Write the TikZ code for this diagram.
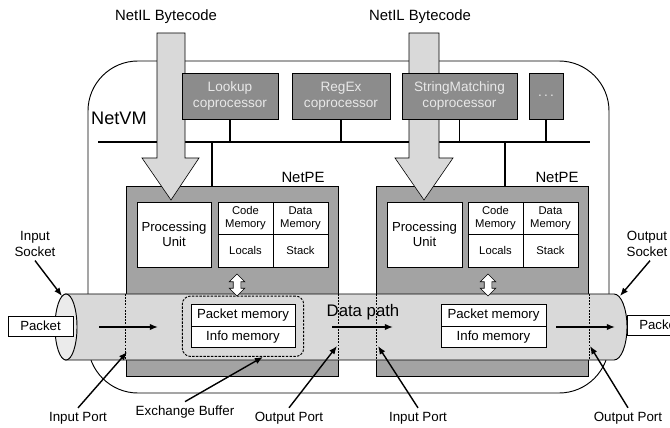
\documentclass[tikz,border=0pt]{standalone}
\usepackage{fontspec}
\setmainfont{Liberation Sans}
\usetikzlibrary{arrows.meta,shapes.arrows,fit}
\definecolor{coproc}{HTML}{8C8C8C}
\definecolor{pegray}{HTML}{A3A3A3}
\definecolor{pipegray}{HTML}{D9D9D9}
\definecolor{capgray}{HTML}{EBEBEB}
\definecolor{coptext}{HTML}{E8E8E8}

\begin{document}
\begin{tikzpicture}[x=0.03cm,y=-0.03cm,
  cop/.style={draw,fill=coproc,text=coptext,minimum height=1.38cm,inner sep=1pt,align=center,line width=0.6pt,font=\fontsize{11.6}{13.6}\selectfont},
  pebox/.style={draw,fill=pegray,minimum width=6.36cm,minimum height=5.7cm,line width=0.6pt},
  whitebox/.style={draw,fill=white,align=center,inner sep=0pt,line width=0.6pt},
  cell/.style={whitebox,minimum width=1.65cm,minimum height=0.975cm,font=\fontsize{9.6}{11.6}\selectfont},
  memrow/.style={whitebox,minimum height=0.645cm,font=\fontsize{11.3}{13}\selectfont},
  lbl/.style={align=center,font=\fontsize{11.4}{13.3}\selectfont},
  biglbl/.style={font=\fontsize{12.7}{15}\selectfont},
  bus/.style={line width=1.4pt},
  pointer/.style={-{Latex[length=7pt,width=5.5pt]},line width=1.2pt},
  port/.style={dash pattern=on 1.5pt off 1.2pt,line width=0.5pt},
  bytecode/.style={draw,fill=pipegray,line width=0.5pt},
  xchg/.style={double arrow,draw,fill=white,rotate=90,minimum height=0.66cm,double arrow head extend=0.12cm,inner sep=0.105cm,line width=0.5pt}]
\clip (0,0) rectangle (670,428);

% NetVM frame
\node (VM)[draw,rounded corners=1.5cm,minimum width=15.63cm,minimum height=9.96cm,line width=0.8pt] at (348.5,227) {};
\node (VMlbl)[anchor=west,inner sep=0,font=\fontsize{15.5}{18}\selectfont] at (91,118) {NetVM};

% bus
\coordinate (busL) at (98,142);
\coordinate (busR) at (590,142);
\coordinate (b1) at (212,142);
\coordinate (b2) at (505,142);
\draw[bus] (busL) -- (busR);

% processing elements
\node (PE1)[pebox] at (232,281) {};
\node (PE2)[pebox] at (482,281) {};
\node (PE1lbl)[biglbl] at (303,177) {NetPE};
\node (PE2lbl)[biglbl] at (557,177) {NetPE};
\draw[bus] (b1) -- (b1 |- PE1.north);
\draw[bus] (b2) -- (b2 |- PE2.north);

% data path pipe
\draw[fill=pipegray,line width=0.8pt] (65,294) -- (614,294)
  arc[start angle=90,end angle=-90,x radius=0.39cm,y radius=0.99cm] -- (65,360) -- cycle;
\draw[fill=capgray,line width=0.8pt] (66,327) ellipse[x radius=0.33cm,y radius=0.99cm];
\coordinate (sockL) at (62,296);
\coordinate (sockR) at (620,296);

% bytecode arrows
\node (BC1)[biglbl] at (166,17) {NetIL Bytecode};
\node (BC2)[biglbl] at (420,17) {NetIL Bytecode};
\draw[bytecode] (157,33) -- (185,33) -- (185,158) -- (199,158) -- (171,200) -- (142,158) -- (157,158) -- cycle;
\draw[bytecode] (409,33) -- (439,33) -- (439,158) -- (453,158) -- (424,200) -- (395,158) -- (409,158) -- cycle;

% coprocessors
\node (Look)[cop,minimum width=2.88cm] at (230,96) {Lookup\\coprocessor};
\node (RegEx)[cop,minimum width=2.94cm] at (341,96) {RegEx\\coprocessor};
\node (StrM)[cop,minimum width=3.45cm] at (459.5,96) {StringMatching\\coprocessor};
\node (More)[cop,minimum width=1.02cm] at (546,96) {.\,.\,.};
\draw[bus] (Look.south) -- (Look.south |- busL);
\draw[bus] (RegEx.south) -- (RegEx.south |- busL);
\draw[bus] (StrM.south) -- (StrM.south |- busL);
\draw[bus] (More.south) -- (More.south |- busL);

% inside the NetPEs
\node (PU1)[whitebox,minimum width=2.22cm,minimum height=1.95cm,font=\fontsize{11.2}{12.8}\selectfont] at (174,234.5) {Processing\\Unit};
\node (PU2)[whitebox,minimum width=2.25cm,minimum height=1.95cm,font=\fontsize{11.2}{12.8}\selectfont] at (424.5,234.5) {Processing\\Unit};
\node (CM1)[cell] at (245.5,218.25) {Code\\Memory};
\node (DM1)[cell] at (300.5,218.25) {Data\\Memory};
\node (LC1)[cell] at (245.5,250.75) {Locals};
\node (ST1)[cell] at (300.5,250.75) {Stack};
\node (CM2)[cell] at (495.5,218.25) {Code\\Memory};
\node (DM2)[cell] at (550.5,218.25) {Data\\Memory};
\node (LC2)[cell] at (495.5,250.75) {Locals};
\node (ST2)[cell] at (550.5,250.75) {Stack};
\node (X1)[xchg] at (237,285) {};
\node (X2)[xchg] at (488,285) {};

% exchange buffers
\node (PM1)[memrow,minimum width=3.12cm] at (243,315.5) {Packet memory};
\node (IM1)[memrow,minimum width=3.12cm] at (243,337) {Info memory};
\node (PM2)[memrow,minimum width=3.15cm] at (493.5,315.5) {Packet memory};
\node (IM2)[memrow,minimum width=3.15cm] at (493.5,337) {Info memory};
\node (XB)[draw,dash pattern=on 2pt off 1.2pt,rounded corners=7pt,fit=(PM1)(IM1),inner sep=0.25cm,line width=0.8pt] {};

% ports
\draw[port] (125,294) -- (125,360);
\draw[port] (338,294) -- (338,360);
\draw[port] (376,294) -- (376,360);
\draw[port] (589,294) -- (589,360);
\coordinate (ip1) at (127,352);
\coordinate (op1) at (337,346);
\coordinate (ip2) at (378,346);
\coordinate (op2) at (590,346);

% packets and flow
\node (PktIn)[whitebox,minimum width=1.95cm,minimum height=0.6cm,font=\fontsize{11.3}{13}\selectfont] at (40.5,326) {Packet};
\node (PktOut)[whitebox,minimum width=1.95cm,minimum height=0.6cm,font=\fontsize{11.3}{13}\selectfont] at (659.5,325) {Packet};
\coordinate (f1) at (99,327);
\coordinate (f2) at (158,327);
\coordinate (f3) at (332,327);
\coordinate (f4) at (393,327);
\coordinate (f5) at (556,327);
\coordinate (f6) at (615,327);
\draw[pointer] (f1) -- (f2);
\draw[pointer] (f3) -- (f4);
\draw[pointer] (f5) -- (f6);
\node (DP)[font=\fontsize{14.3}{17}\selectfont] at (363,312) {Data path};

% labels
\node (InSock)[lbl] at (35,244) {Input\\Socket};
\node (OutSock)[lbl] at (647,244) {Output\\Socket};
\node (IP1)[lbl] at (78,418) {Input Port};
\node (EB)[lbl] at (185,412) {Exchange Buffer};
\node (OP1)[lbl] at (289,418) {Output Port};
\node (IP2)[lbl] at (418,418) {Input Port};
\node (OP2)[lbl] at (628,418) {Output Port};
\draw[pointer] (InSock.south) -- (sockL);
\draw[pointer] ([xshift=0.09cm]OutSock.south) -- (sockR);
\draw[pointer] (IP1.north) -- (ip1);
\draw[pointer] (EB.north) -- ([xshift=0.6cm]XB.south);
\draw[pointer] (OP1.north) -- (op1);
\draw[pointer] (IP2.north) -- (ip2);
\draw[pointer] (OP2.north) -- (op2);

\end{tikzpicture}
\end{document}
